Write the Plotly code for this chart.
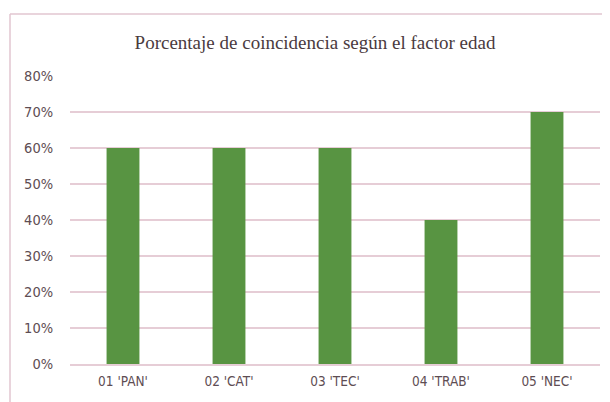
import plotly.graph_objects as go

categories = ["01 'PAN'", "02 'CAT'", "03 'TEC'", "04 'TRAB'", "05 'NEC'"]
values = [0.60, 0.60, 0.60, 0.40, 0.70]
y_ticks = [0, 0.1, 0.2, 0.3, 0.4, 0.5, 0.6, 0.7, 0.8]
y_tick_labels = ["0%", "10%", "20%", "30%", "40%", "50%", "60%", "70%", "80%"]
title_text = "Porcentaje de coincidencia según el factor edad"

# page body has an 8px margin, so work in figure coords = screen - 8
OFF = 8
W, H = 610 - OFF, 402 - OFF
L, R, T, B = 70 - OFF, 10, 76 - OFF, 38
pw, ph = W - L - R, H - T - B

def px_x(px):
    return (px - OFF - L) / pw

def px_y(py):
    return (H - B - (py - OFF)) / ph

font_fam = "Liberation Sans Narrow, DejaVu Sans Condensed, Roboto, sans-serif"
ytick_font = dict(family=font_fam, size=14.5, color="#5e4d53")
xtick_font = dict(family=font_fam, size=13.5, color="#5e4d53")
grid_col = "#e6cdd6"
border_col = "#e2c6d0"

fig = go.Figure(go.Bar(x=categories, y=values, marker_color="#589442",
                       marker_line_width=0, hoverinfo="x+y"))

fig.update_layout(
    width=W, height=H,
    margin=dict(l=L, r=R, t=T, b=B),
    paper_bgcolor="white", plot_bgcolor="white",
    bargap=0.69,
    showlegend=False,
    title=dict(text=title_text, x=(315 - OFF) / W, xanchor="center",
               y=1 - (42 - OFF) / H, yanchor="middle",
               font=dict(family="Liberation Serif, Times New Roman, serif", size=19, color="#4a3a40")),
    xaxis=dict(showgrid=False, showline=True, linecolor=grid_col, linewidth=1.5,
               ticks="outside", ticklen=4, tickcolor="rgba(0,0,0,0)",
               tickfont=xtick_font, fixedrange=True),
    yaxis=dict(range=[0, 0.8], tickvals=y_ticks, ticktext=y_tick_labels,
               showgrid=True, gridcolor=grid_col, gridwidth=1.5,
               zeroline=False, showline=False,
               ticks="outside", ticklen=13, tickcolor="rgba(0,0,0,0)",
               tickfont=ytick_font, fixedrange=True),
    shapes=[
        dict(type="line", xref="paper", yref="paper",
             x0=px_x(10), x1=px_x(10), y0=px_y(14), y1=px_y(420),
             line=dict(color=border_col, width=1.5)),
        dict(type="line", xref="paper", yref="paper",
             x0=px_x(10), x1=px_x(620), y0=px_y(14), y1=px_y(14),
             line=dict(color=border_col, width=1.5)),
    ],
)

fig.write_html("out.html")
